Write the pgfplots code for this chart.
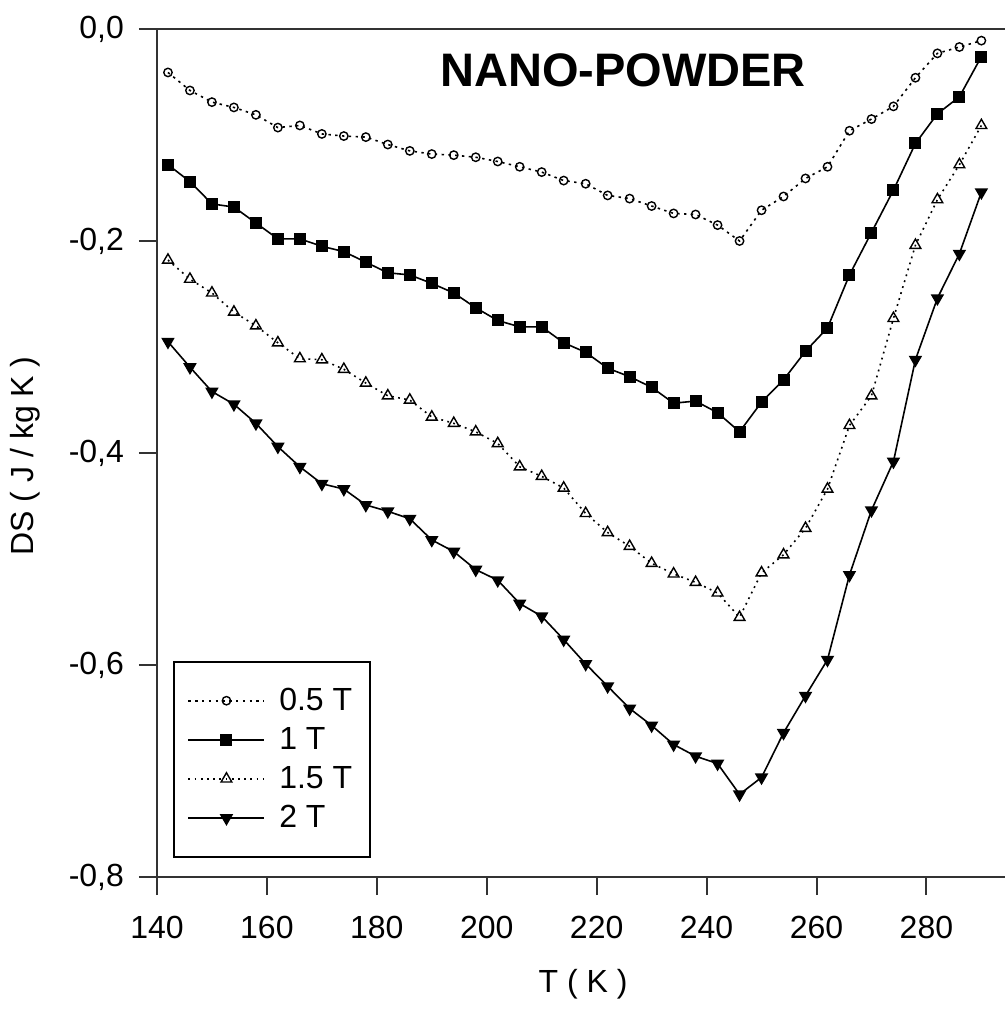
\documentclass[border=0pt]{standalone}
\usepackage{fontspec}
\setmainfont{Liberation Sans}
\usepackage{pgfplots}
\usepackage{pgfplotstable}
\pgfplotsset{compat=1.18}

% Entropy change of the nano-powder at four applied fields
\pgfplotstableread{
T     s05     s1      s15     s2
142  -0.041  -0.128  -0.218  -0.295
146  -0.058  -0.144  -0.236  -0.319
150  -0.069  -0.165  -0.249  -0.342
154  -0.074  -0.168  -0.267  -0.354
158  -0.081  -0.183  -0.280  -0.372
162  -0.093  -0.198  -0.296  -0.394
166  -0.091  -0.198  -0.311  -0.413
170  -0.099  -0.205  -0.312  -0.429
174  -0.101  -0.210  -0.321  -0.434
178  -0.102  -0.220  -0.334  -0.449
182  -0.109  -0.230  -0.346  -0.455
186  -0.115  -0.232  -0.350  -0.462
190  -0.118  -0.240  -0.366  -0.482
194  -0.119  -0.249  -0.372  -0.493
198  -0.121  -0.263  -0.380  -0.510
202  -0.125  -0.275  -0.391  -0.520
206  -0.130  -0.281  -0.413  -0.542
210  -0.135  -0.281  -0.422  -0.554
214  -0.143  -0.296  -0.433  -0.576
218  -0.146  -0.305  -0.457  -0.599
222  -0.157  -0.320  -0.475  -0.620
226  -0.160  -0.328  -0.488  -0.641
230  -0.167  -0.338  -0.504  -0.657
234  -0.174  -0.353  -0.514  -0.675
238  -0.175  -0.351  -0.522  -0.686
242  -0.185  -0.362  -0.532  -0.693
246  -0.200  -0.380  -0.555  -0.722
250  -0.171  -0.352  -0.513  -0.706
254  -0.158  -0.331  -0.496  -0.664
258  -0.141  -0.304  -0.471  -0.629
262  -0.130  -0.282  -0.434  -0.595
266  -0.096  -0.232  -0.374  -0.515
270  -0.085  -0.192  -0.346  -0.454
274  -0.073  -0.152  -0.273  -0.408
278  -0.046  -0.108  -0.204  -0.312
282  -0.023  -0.080  -0.161  -0.254
286  -0.017  -0.064  -0.128  -0.212
290  -0.011  -0.026  -0.091  -0.154
}\dsdata

\newcommand{\labelfont}{\fontsize{16}{19}\selectfont}

\begin{document}
\begin{tikzpicture}
\begin{axis}[
  scale only axis,
  width=424pt, height=424pt,
  xmin=140, xmax=294.3,
  ymin=-0.8, ymax=0,
  axis x line=bottom, axis y line=left,
  axis line style={-, line width=1pt, black!80},
  tick style={line width=1pt, black!80},
  tick align=outside,
  major tick length=9pt,
  xtick={140,160,180,200,220,240,260,280},
  xticklabels={140,160,180,200,220,240,260,280},
  ytick={-0.8,-0.6,-0.4,-0.2,0},
  yticklabels={{-0,8},{-0,6},{-0,4},{-0,2},{0,0}},
  ticklabel style={font=\labelfont},
  yticklabel style={xshift=-4pt},
  xticklabel style={yshift=-7pt},
  xlabel={T ( K )},
  ylabel={DS ( J / kg K )},
  label style={font=\labelfont},
  xlabel style={at={(axis description cs:0.5024,-0.1262)}, anchor=center},
  ylabel style={at={(axis description cs:-0.1557,0.4965)}, anchor=center},
  legend style={at={(0.0185,0.2547)}, anchor=north west,
    draw=black, line width=1pt, font=\labelfont,
    inner xsep=7pt, inner ysep=11pt, row sep=3pt},
  legend cell align=left,
  legend image code/.code={
    \path (0pt,0pt) (43pt,0pt);
    \draw[mark repeat=2, mark phase=2, #1]
      plot coordinates {(0pt,0pt) (19pt,0pt) (38pt,0pt)};},
  every axis plot/.append style={line width=0.8pt, black},
]
\addplot[dash pattern=on 1.2pt off 2.2pt, mark=o, mark size=2.1pt,
  mark options={solid, fill=white, line width=0.7pt}]
  table[x=T, y=s05] {\dsdata};
\addlegendentry{0.5 T}
\addplot[solid, mark=square*, mark size=2.6pt, mark options={solid}]
  table[x=T, y=s1] {\dsdata};
\addlegendentry{1 T}
\addplot[dash pattern=on 0.9pt off 2.2pt, mark=triangle, mark size=3.1pt,
  mark options={solid, fill=white, line width=0.7pt}]
  table[x=T, y=s15] {\dsdata};
\addlegendentry{1.5 T}
\addplot[solid, mark=triangle*, mark size=3.1pt, mark options={solid, rotate=180}]
  table[x=T, y=s2] {\dsdata};
\addlegendentry{2 T}
\node[font=\fontsize{23.5}{28}\selectfont\bfseries, anchor=center]
  at (rel axis cs:0.5495,0.951) {NANO-POWDER};
\coordinate (topL) at (rel axis cs:0,1);
\coordinate (topR) at (rel axis cs:1,1);
\coordinate (bbSW) at (rel axis cs:-0.1851,-0.1568);
\coordinate (bbNE) at (rel axis cs:1,1.0342);
\end{axis}
\draw[line width=1pt, black!80] (topL) -- (topR);
\pgfresetboundingbox
\useasboundingbox (bbSW) rectangle (bbNE);
\end{tikzpicture}
\end{document}
